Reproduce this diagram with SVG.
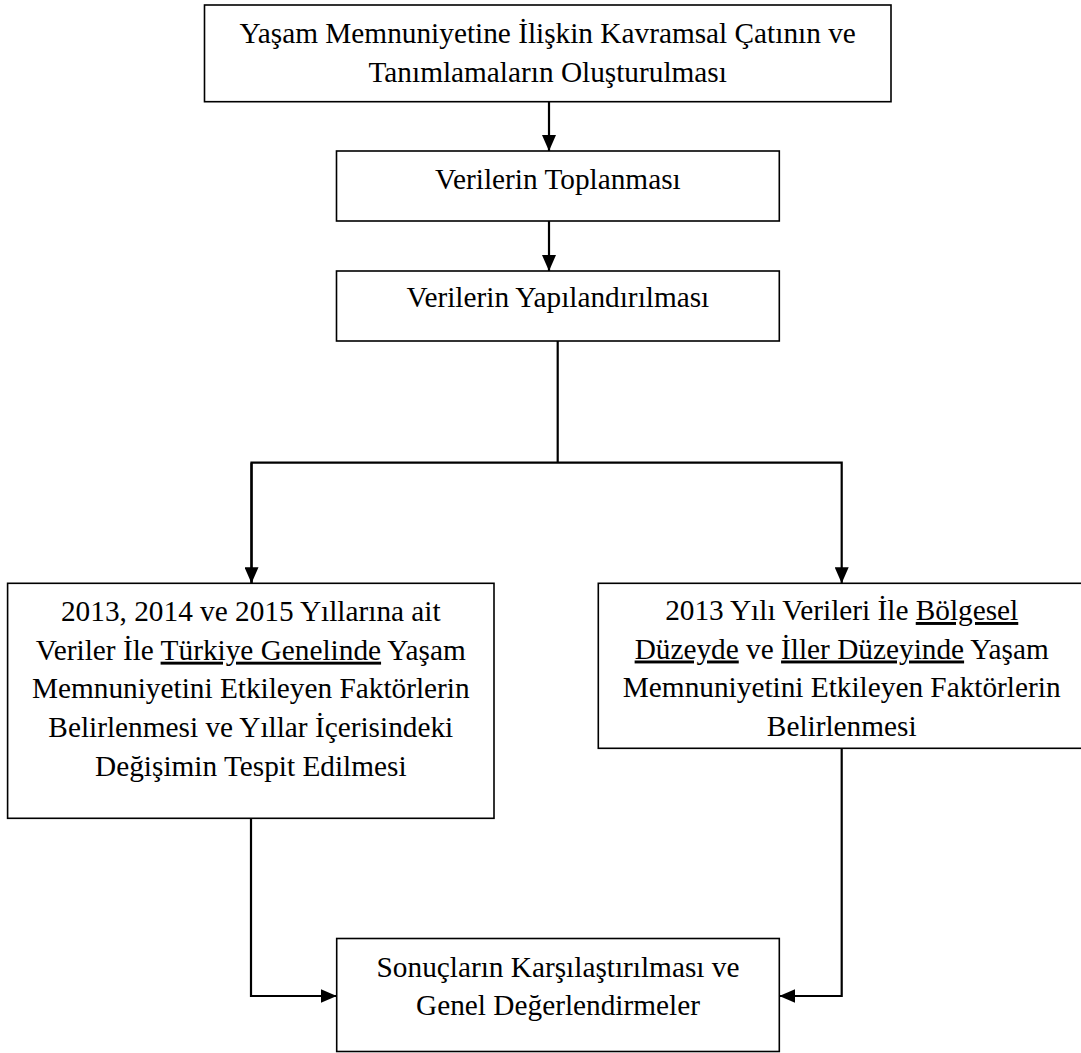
<svg xmlns="http://www.w3.org/2000/svg" width="1081" height="1053" viewBox="0 0 1081 1053">
<style>
.box{fill:#fff;stroke:#000;stroke-width:1.6}
.t{font-family:"Liberation Serif","Times New Roman",serif;font-size:29.3px;fill:#000;text-anchor:middle}
.u{text-decoration:underline}
.c{fill:none;stroke:#000;stroke-width:2.2}
</style>
<defs>
<marker id="ah" markerUnits="userSpaceOnUse" markerWidth="16" markerHeight="14" refX="16" refY="7" orient="auto">
<path d="M0,0 L16,7 L0,14 z" fill="#000"/>
</marker>
</defs>
<rect width="1081" height="1053" fill="#fff"/>
<g id="connectors">
<path class="c" d="M549,101.7 V151" marker-end="url(#ah)"/>
<path class="c" d="M549,221 V271" marker-end="url(#ah)"/>
<path class="c" d="M557.7,341 V462.7"/>
<path class="c" d="M251.5,583.3 V462.7 H841.7 V583.3" marker-end="url(#ah)"/>
<path class="c" d="M251.5,462.7 V583.3" marker-end="url(#ah)"/>
<path class="c" d="M251,818.3 V996 H336.7" marker-end="url(#ah)"/>
<path class="c" d="M841.7,748.3 V996 H779.3" marker-end="url(#ah)"/>
</g>
<g id="n1">
<rect class="box" x="204.5" y="5" width="686.5" height="96.7"/>
<text class="t" x="547.7" y="42.5">Yaşam Memnuniyetine İlişkin Kavramsal Çatının ve</text>
<text class="t" x="547.7" y="81.5">Tanımlamaların Oluşturulması</text>
</g>
<g id="n2">
<rect class="box" x="336.5" y="151" width="442.8" height="70"/>
<text class="t" x="557.9" y="189">Verilerin Toplanması</text>
</g>
<g id="n3">
<rect class="box" x="336.5" y="271" width="442.8" height="70"/>
<text class="t" x="557.9" y="307">Verilerin Yapılandırılması</text>
</g>
<g id="n4">
<rect class="box" x="7.6" y="583.3" width="486.4" height="235"/>
<text class="t" x="250.8" y="621">2013, 2014 ve 2015 Yıllarına ait</text>
<text class="t" x="250.8" y="659.7">Veriler İle <tspan class="u">Türkiye Genelinde</tspan> Yaşam</text>
<text class="t" x="250.8" y="698.3">Memnuniyetini Etkileyen Faktörlerin</text>
<text class="t" x="250.8" y="737">Belirlenmesi ve Yıllar İçerisindeki</text>
<text class="t" x="250.8" y="775.7">Değişimin Tespit Edilmesi</text>
</g>
<g id="n5">
<rect class="box" x="598.3" y="583.3" width="486.7" height="165"/>
<text class="t" x="841.7" y="620">2013 Yılı Verileri İle <tspan class="u">Bölgesel</tspan></text>
<text class="t" x="841.7" y="658.5"><tspan class="u">Düzeyde</tspan> ve <tspan class="u">İller Düzeyinde</tspan> Yaşam</text>
<text class="t" x="841.7" y="697">Memnuniyetini Etkileyen Faktörlerin</text>
<text class="t" x="841.7" y="735.5">Belirlenmesi</text>
</g>
<g id="n6">
<rect class="box" x="336.7" y="938.5" width="442.6" height="113"/>
<text class="t" x="558" y="976.7">Sonuçların Karşılaştırılması ve</text>
<text class="t" x="558" y="1015">Genel Değerlendirmeler</text>
</g>
</svg>
